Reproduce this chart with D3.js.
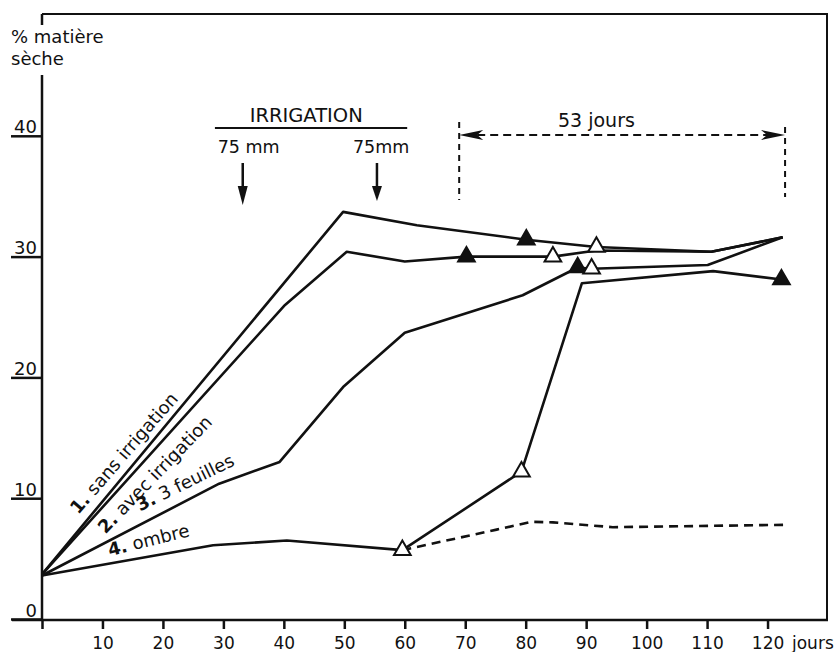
<!DOCTYPE html>
<html>
<head>
<meta charset="utf-8">
<script src="https://cdn.jsdelivr.net/npm/d3@7"></script>
<style>
  body { margin: 0; background: #fff; }
  text { font-family: "DejaVu Sans", sans-serif; fill: #111; }
</style>
</head>
<body>
<div id="chart"></div>
<script>
// size of the page
var width = 836;
var height = 652;

// data (days, % dry matter)
var xTicks = [0, 10, 20, 30, 40, 50, 60, 70, 80, 90, 100, 110, 120];
var yTicks = [0, 10, 20, 30, 40];

var sansDays = [0, 49.8, 62, 80.1, 91.7, 110.7, 122.5];
var sansVals = [3.7, 33.7, 32.6, 31.4, 30.8, 30.4, 31.6];

var avecDays = [0, 40.2, 50.4, 60, 70.2, 84.5, 91.7, 110.7, 122.5];
var avecVals = [3.7, 26.0, 30.4, 29.6, 30.0, 30.0, 30.5, 30.4, 31.6];

var feuilDays = [0, 29.3, 39.3, 49.8, 60, 79.5, 88.6, 90.9, 110.1, 122.5];
var feuilVals = [3.6, 11.2, 13.0, 19.2, 23.7, 26.8, 29.1, 29.0, 29.3, 31.6];

var ombreDays = [0, 28.3, 40.5, 59.6, 79.3, 89.3, 111, 122.3];
var ombreVals = [3.6, 6.1, 6.5, 5.7, 12.2, 27.8, 28.8, 28.1];

// shaded plants kept in the shade (dashed)
var ombreDashDays = [59.6, 75.2, 81, 84.5, 94.4, 123.2];
var ombreDashVals = [5.7, 7.4, 8.05, 8.0, 7.6, 7.8];

// triangles: filled or open
var markDays = [80.1, 91.7, 70.2, 84.5, 88.6, 90.9, 59.6, 79.3, 122.3];
var markVals = [31.4, 30.8, 30.0, 30.0, 29.1, 29.0, 5.7, 12.2, 28.1];
var markFilled = [true, false, true, false, true, false, false, false, true];

// irrigation dates (days) and label
var irrigDays = [33.2, 55.4];
var irrigLabels = ["75 mm", "75mm"];

var svg = d3.select("#chart")
  .append("svg")
  .attr("width", width)
  .attr("height", height);

svg.append("rect").attr("width", width).attr("height", height).attr("fill", "#fff");

// scales
var x = d3.scaleLinear().domain([0, 130]).range([42, 828]);
var y = d3.scaleLinear().domain([0, 50]).range([619, 15]);

var line = d3.line()
  .x(function(d) { return x(d[0]); })
  .y(function(d) { return y(d[1]); });

function pairs(a, b) { return a.map(function(d, i) { return [d, b[i]]; }); }

// frame
svg.append("line").attr("x1", 42).attr("x2", 828).attr("y1", 14).attr("y2", 14)
   .attr("stroke", "#111").attr("stroke-width", 2);
svg.append("line").attr("x1", 827).attr("x2", 827).attr("y1", 14).attr("y2", 620)
   .attr("stroke", "#111").attr("stroke-width", 2);
// y axis line (broken by the title)
svg.append("line").attr("x1", 42).attr("x2", 42).attr("y1", 14).attr("y2", 25)
   .attr("stroke", "#111").attr("stroke-width", 2.5);
svg.append("line").attr("x1", 42).attr("x2", 42).attr("y1", 75).attr("y2", 620)
   .attr("stroke", "#111").attr("stroke-width", 2.5);
// x axis line
svg.append("line").attr("x1", 12).attr("x2", 828).attr("y1", 620).attr("y2", 620)
   .attr("stroke", "#111").attr("stroke-width", 2.5);

// x axis
var xAxis = svg.append("g")
  .attr("transform", "translate(0,620)")
  .call(d3.axisBottom(x)
    .tickValues(xTicks)
    .tickSizeInner(9)
    .tickSizeOuter(0)
    .tickPadding(8)
    .tickFormat(function(d) { return d === 0 ? "" : d; }));
xAxis.select(".domain").remove();
xAxis.selectAll(".tick line").attr("stroke", "#111").attr("stroke-width", 2.5);
xAxis.selectAll(".tick text").attr("font-size", 17).attr("font-family", "DejaVu Sans").attr("fill", "#111");
svg.append("text").attr("x", 792).attr("y", 649).attr("font-size", 17).text("jours");

// y axis: long underline ticks with labels above
var yAxis = svg.append("g")
  .attr("transform", "translate(42,0)")
  .call(d3.axisLeft(y)
    .tickValues(yTicks)
    .tickSizeInner(31)
    .tickSizeOuter(0));
yAxis.select(".domain").remove();
yAxis.selectAll(".tick line").attr("stroke", "#111").attr("stroke-width", 2.5);
yAxis.selectAll(".tick text")
  .attr("x", -5).attr("dy", 0).attr("y", -3)
  .attr("text-anchor", "end")
  .attr("font-size", 18).attr("font-family", "DejaVu Sans").attr("fill", "#111");

svg.append("text").attr("x", 11).attr("y", 43).attr("font-size", 18).text("% matière");
svg.append("text").attr("x", 11).attr("y", 65).attr("font-size", 18).text("sèche");

// series
var solid = [pairs(sansDays, sansVals), pairs(avecDays, avecVals),
             pairs(feuilDays, feuilVals), pairs(ombreDays, ombreVals)];
svg.selectAll("path.serie")
  .data(solid)
  .enter()
  .append("path")
  .attr("class", "serie")
  .attr("d", line)
  .attr("fill", "none")
  .attr("stroke", "#111")
  .attr("stroke-width", 2.6)
  .attr("stroke-linejoin", "round");

svg.append("path")
  .attr("d", line(pairs(ombreDashDays, ombreDashVals)))
  .attr("fill", "none")
  .attr("stroke", "#111")
  .attr("stroke-width", 2.6)
  .attr("stroke-dasharray", "9,6");

// triangles
svg.selectAll("path.mark")
  .data(markDays.map(function(d, i) { return [d, markVals[i], markFilled[i]]; }))
  .enter()
  .append("path")
  .attr("class", "mark")
  .attr("d", d3.symbol().type(d3.symbolTriangle).size(120))
  .attr("transform", function(d) { return "translate(" + x(d[0]) + "," + y(d[1]) + ")"; })
  .attr("fill", function(d) { return d[2] ? "#111" : "#fff"; })
  .attr("stroke", "#111")
  .attr("stroke-width", 2);

// series labels along the lines
var labels = [
  { n: "1.", t: " sans irrigation", d: 6.0, v: 8.6, a: -49 },
  { n: "2.", t: " avec irrigation", d: 10.5, v: 7.0, a: -46 },
  { n: "3.", t: " 3 feuilles", d: 16.2, v: 8.9, a: -26 },
  { n: "4.", t: " ombre", d: 11.2, v: 5.2, a: -14 }
];
labels.forEach(function(l) {
  var t = svg.append("text")
    .attr("transform", "translate(" + x(l.d) + "," + y(l.v) + ") rotate(" + l.a + ")")
    .attr("font-size", 18);
  t.append("tspan").attr("font-weight", "bold").text(l.n);
  t.append("tspan").text(l.t);
});

// irrigation annotation
svg.append("text").attr("x", x(43.7)).attr("y", 122).attr("text-anchor", "middle")
   .attr("font-size", 19.5).text("IRRIGATION");
svg.append("line").attr("x1", x(28.6)).attr("x2", x(60.4)).attr("y1", 128).attr("y2", 128)
   .attr("stroke", "#111").attr("stroke-width", 2);
irrigDays.forEach(function(d, i) {
  var cx = x(d);
  svg.append("text").attr("x", cx - 25 + (i ? 1 : 0)).attr("y", 153).attr("font-size", 17.5).text(irrigLabels[i]);
  svg.append("line").attr("x1", cx).attr("x2", cx).attr("y1", 163).attr("y2", 190)
     .attr("stroke", "#111").attr("stroke-width", 2.5);
  svg.append("path")
     .attr("d", "M" + (cx - 5) + "," + 186 + "L" + (cx + 5) + "," + 186 + "L" + cx + "," + (i ? 201 : 205) + "Z")
     .attr("fill", "#111");
});

// 53 jours span
var j0 = x(69), j1 = x(122.9);
svg.append("line").attr("x1", j0).attr("x2", j0).attr("y1", 122).attr("y2", 200)
   .attr("stroke", "#111").attr("stroke-width", 2).attr("stroke-dasharray", "6,5");
svg.append("line").attr("x1", j1).attr("x2", j1).attr("y1", 127).attr("y2", 197)
   .attr("stroke", "#111").attr("stroke-width", 2).attr("stroke-dasharray", "6,5");
svg.append("line").attr("x1", j0 + 18).attr("x2", j1 - 18).attr("y1", 135).attr("y2", 135)
   .attr("stroke", "#111").attr("stroke-width", 2).attr("stroke-dasharray", "8,5");
svg.append("path")
   .attr("d", "M" + j0 + ",135L" + (j0 + 24) + ",130L" + (j0 + 18) + ",135L" + (j0 + 24) + ",140Z")
   .attr("fill", "#111");
svg.append("path")
   .attr("d", "M" + j1 + ",135L" + (j1 - 24) + ",130L" + (j1 - 18) + ",135L" + (j1 - 24) + ",140Z")
   .attr("fill", "#111");
svg.append("text").attr("x", x(91.7)).attr("y", 127).attr("text-anchor", "middle")
   .attr("font-size", 19).text("53 jours");
</script>
</body>
</html>
